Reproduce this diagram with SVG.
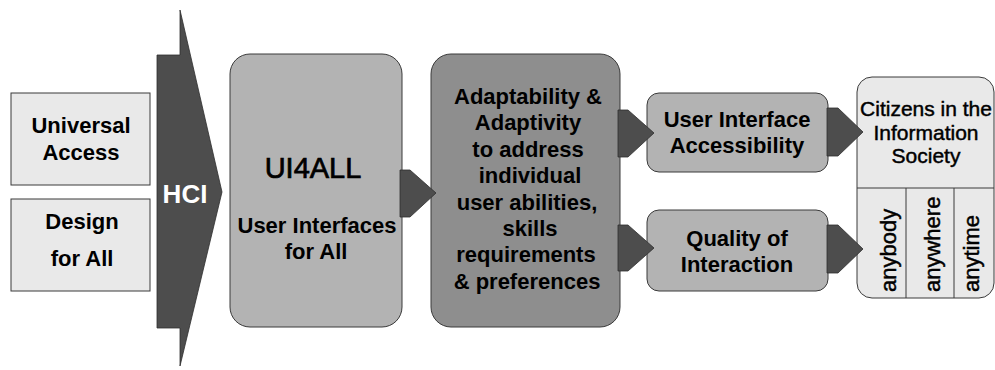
<svg xmlns="http://www.w3.org/2000/svg" width="995" height="370" viewBox="0 0 995 370">
<style>
  text { font-family: "Liberation Sans", Arial, sans-serif; fill: #000; }
  .b { font-weight: bold; font-size: 22px; text-anchor: middle; }
  .r { font-size: 21px; text-anchor: middle; stroke: #000; stroke-width: 0.45; }
  .v { font-size: 22px; text-anchor: start; stroke: #000; stroke-width: 0.45; }
  .light { fill: #e9e9e9; stroke: #3a3a3a; stroke-width: 1; }
  .mid { fill: #b3b3b3; stroke: #3a3a3a; stroke-width: 1; }
  .darkbox { fill: #8e8e8e; stroke: #3a3a3a; stroke-width: 1; }
  .arrow { fill: #4d4d4d; stroke: #2e2e2e; stroke-width: 0.8; }
  .div { stroke: #3a3a3a; stroke-width: 1; fill: none; }
</style>
<rect width="995" height="370" fill="#ffffff"/>

<g id="universal-access">
  <rect class="light" x="11" y="93" width="139" height="92"/>
  <text class="b" x="81" y="133">Universal</text>
  <text class="b" x="81" y="160">Access</text>
</g>
<g id="design-for-all">
  <rect class="light" x="11" y="199" width="139" height="92"/>
  <text class="b" x="82" y="229">Design</text>
  <text class="b" x="82" y="266">for All</text>
</g>
<g id="hci">
  <polygon class="arrow" points="157,55 180,55 180,10 222,192 180,366 180,328 157,328"/>
  <text x="185" y="203" style="font-weight:bold;font-size:26px;text-anchor:middle;fill:#ffffff">HCI</text>
</g>
<g id="ui4all">
  <rect class="mid" x="230" y="54" width="172" height="273" rx="20" ry="20"/>
  <text x="313" y="178" style="font-size:29px;text-anchor:middle;stroke:#000;stroke-width:0.7">UI4ALL</text>
  <text class="b" x="317" y="233">User Interfaces</text>
  <text class="b" x="316" y="259">for All</text>
</g>
<g id="adaptability">
  <rect class="darkbox" x="431" y="54" width="189" height="273" rx="20" ry="20"/>
  <text class="b" x="528" y="104">Adaptability &amp;</text>
  <text class="b" x="528" y="130.4">Adaptivity</text>
  <text class="b" x="528" y="156.8">to address</text>
  <text class="b" x="530" y="183.2">individual</text>
  <text class="b" x="527" y="209.6">user abilities,</text>
  <text class="b" x="530" y="236">skills</text>
  <text class="b" x="526" y="262.4">requirements</text>
  <text class="b" x="527" y="288.8">&amp; preferences</text>
</g>
<g id="ui-accessibility">
  <rect class="mid" x="647" y="93" width="181" height="79" rx="12" ry="12"/>
  <text class="b" x="737" y="127">User Interface</text>
  <text class="b" x="737" y="153">Accessibility</text>
</g>
<g id="quality-of-interaction">
  <rect class="mid" x="647" y="210" width="181" height="81" rx="12" ry="12"/>
  <text class="b" x="737" y="246">Quality of</text>
  <text class="b" x="737" y="272">Interaction</text>
</g>
<g id="citizens">
  <rect class="light" x="857" y="77" width="137" height="221" rx="15" ry="15"/>
  <line class="div" x1="857" y1="188" x2="994" y2="188"/>
  <line class="div" x1="906" y1="188" x2="906" y2="298"/>
  <line class="div" x1="954" y1="188" x2="954" y2="298"/>
  <text class="r" x="926" y="116">Citizens in the</text>
  <text class="r" x="926" y="140">Information</text>
  <text class="r" x="926" y="163">Society</text>
  <text class="v" transform="translate(896,292) rotate(-90)">anybody</text>
  <text class="v" transform="translate(940,292) rotate(-90)">anywhere</text>
  <text class="v" transform="translate(979,292) rotate(-90)">anytime</text>
</g>

<g id="connectors">
  <polygon class="arrow" points="400,170 410,170 436,193 410,217 400,217"/>
  <polygon class="arrow" points="618,110 628,110 654,133 628,157 618,157"/>
  <polygon class="arrow" points="618,225 628,225 654,248 628,271 618,271"/>
  <polygon class="arrow" points="827,108 838,108 863,132 838,156 827,156"/>
  <polygon class="arrow" points="827,225 838,225 863,249 838,273 827,273"/>
</g>
</svg>
